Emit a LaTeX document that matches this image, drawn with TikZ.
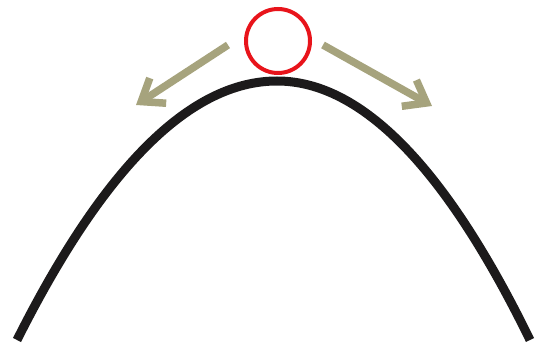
\documentclass[tikz,border=0pt]{standalone}
\usepackage{xcolor}
\usepackage{tikz}
\usetikzlibrary{arrows.meta}
\definecolor{Ball}{HTML}{E8141B}
\definecolor{Push}{HTML}{A6A37D}
\definecolor{Ink}{HTML}{1C1A1B}

\begin{document}
\begin{tikzpicture}[x=1pt,y=-1pt,
  ball/.style={circle,draw=Ball,line width=4pt,minimum size=64pt,inner sep=0pt},
  push/.style={Push,line width=7.5pt,-{Straight Barb[length=20pt,width=30pt,line width=7.5pt]}}]
  \useasboundingbox (0,0) rectangle (540,347);
  % hill
  \draw[Ink,line width=9pt] (17,340) .. controls (103.7,167.3) and (190.3,81) .. (277,81)
    .. controls (361.3,81) and (445.7,167.3) .. (530,340);
  % ball on top
  \node[ball] (top) at (278,41) {};
  % pushes either way
  \coordinate (lfrom) at (228,45);
  \coordinate (lto) at (136,105);
  \coordinate (rfrom) at (323,45);
  \coordinate (rto) at (432,106);
  \draw[push] (lfrom) -- (lto);
  \draw[push] (rfrom) -- (rto);
\end{tikzpicture}
\end{document}
